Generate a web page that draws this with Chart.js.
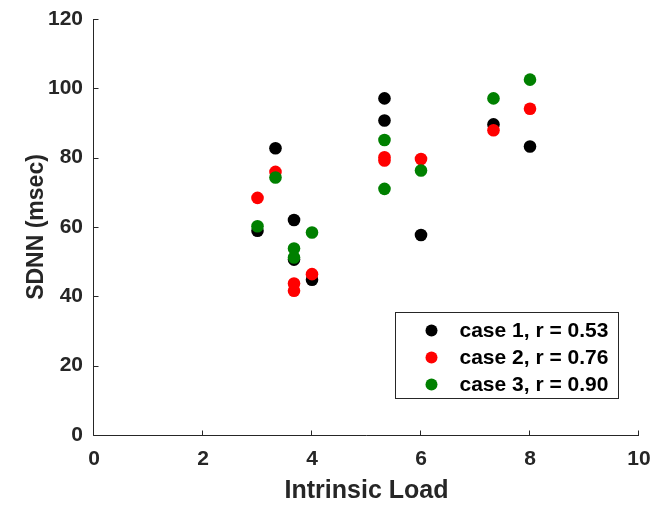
<!DOCTYPE html>
<html>
<head>
<meta charset="utf-8">
<script src="https://cdn.jsdelivr.net/npm/chart.js@4/dist/chart.umd.min.js"></script>
<style>
  html, body { margin: 0; padding: 0; background: #ffffff; }
  #wrap { width: 654px; height: 506px; position: relative; }
</style>
</head>
<body>
<div id="wrap"><canvas id="c"></canvas></div>
<script>
// ---- data ----
const xLoad   = [3, 3.33, 3.67, 3.67, 4, 5.33, 5.33, 6, 7.33, 8];
const case1   = [58.9, 82.7, 62.0, 50.6, 44.8, 97.1, 90.7, 57.7, 89.6, 83.2];
const case2   = [68.4, 75.9, 43.7, 41.6, 46.4, 80.1, 79.2, 79.6, 87.9, 94.1];
const case3   = [60.2, 74.3, 53.8, 51.2, 58.4, 85.1, 71.0, 76.3, 97.1, 102.5];
const seriesLabels = ['case 1, r = 0.53', 'case 2, r = 0.76', 'case 3, r = 0.90'];
const seriesColors = ['#000000', '#ff0000', '#008000'];
const xTicks = [0, 2, 4, 6, 8, 10];
const yTicks = [0, 20, 40, 60, 80, 100, 120];
const xTitle = 'Intrinsic Load';
const yTitle = 'SDNN (msec)';

const axisColor = '#262626';
const fontFam = '"Liberation Sans", Arial, Helvetica, sans-serif';

function pts(ys) { return ys.map((y, i) => ({ x: xLoad[i], y: y })); }

const allSeries = [case1, case2, case3];
const datasets = allSeries.map((ys, i) => ({
  label: seriesLabels[i],
  data: pts(ys),
  pointRadius: 6.3,
  pointHoverRadius: 6.3,
  pointBackgroundColor: seriesColors[i],
  pointBorderWidth: 0,
  borderWidth: 0,
  order: allSeries.length - i
}));

const axesPlugin = {
  id: 'matlabAxes',
  afterDatasetsDraw(chart) {
    const ctx = chart.ctx;
    const xs = chart.scales.x, ys = chart.scales.y;
    const L = Math.round(xs.left) + 0.5 - 1, B = Math.round(ys.bottom) + 0.5;
    ctx.save();
    ctx.strokeStyle = axisColor;
    ctx.lineWidth = 1;
    ctx.beginPath();
    ctx.moveTo(L, Math.round(ys.top));
    ctx.lineTo(L, B);
    ctx.lineTo(Math.round(xs.right), B);
    // inward ticks
    xTicks.forEach(v => {
      const px = Math.round(xs.getPixelForValue(v)) - 0.5;
      ctx.moveTo(px, B);
      ctx.lineTo(px, B - 5);
    });
    yTicks.forEach(v => {
      const py = Math.round(ys.getPixelForValue(v)) + 0.5;
      ctx.moveTo(L, py);
      ctx.lineTo(L + 5, py);
    });
    ctx.stroke();

    // legend box
    const ca = chart.chartArea;
    const bw = 223, bh = 86;
    const bx = Math.round(ca.right) - 21 - bw + 0.5;
    const by = Math.round(ca.bottom) - 37 - bh + 0.5;
    ctx.fillStyle = '#ffffff';
    ctx.fillRect(bx, by, bw, bh);
    ctx.strokeStyle = axisColor;
    ctx.strokeRect(bx, by, bw, bh);
    ctx.font = 'bold 21px ' + fontFam;
    ctx.textBaseline = 'middle';
    ctx.textAlign = 'left';
    chart.data.datasets.forEach((ds, i) => {
      const cy = by + 18 + i * 27;
      ctx.beginPath();
      ctx.fillStyle = seriesColors[i];
      ctx.arc(bx + 36, cy, 6, 0, Math.PI * 2);
      ctx.fill();
      ctx.fillStyle = '#000000';
      ctx.fillText(ds.label, bx + 64, cy + 1);
    });
    ctx.restore();
  }
};

new Chart(document.getElementById('c'), {
  type: 'scatter',
  data: { datasets },
  plugins: [axesPlugin],
  options: {
    responsive: true,
    maintainAspectRatio: false,
    animation: false,
    events: [],
    layout: { padding: { top: 19, right: 15, left: 0, bottom: 0 } },
    plugins: { legend: { display: false }, tooltip: { enabled: false } },
    scales: {
      x: {
        type: 'linear', min: 0, max: 10,
        afterBuildTicks: s => { s.ticks = xTicks.map(v => ({ value: v })); },
        afterFit: s => { s.height = 71; s.paddingLeft = 0; s.paddingRight = 0; },
        grid: { display: false, drawTicks: false },
        border: { display: false },
        ticks: { color: axisColor, padding: 12, maxRotation: 0, autoSkip: false,
                 font: { family: fontFam, size: 21, weight: 'bold' } },
        title: { display: true, text: xTitle, color: axisColor, padding: { top: 0, bottom: 0 },
                 font: { family: fontFam, size: 25, weight: 'bold' } }
      },
      y: {
        type: 'linear', min: 0, max: 120,
        afterBuildTicks: s => { s.ticks = yTicks.map(v => ({ value: v })); },
        afterFit: s => { s.width = 94; s.paddingTop = 0; s.paddingBottom = 0; },
        grid: { display: false, drawTicks: false },
        border: { display: false },
        ticks: { color: axisColor, padding: 11, autoSkip: false,
                 font: { family: fontFam, size: 21, weight: 'bold' } },
        title: { display: true, text: yTitle, color: axisColor, padding: { top: 23, bottom: 0 },
                 font: { family: fontFam, size: 23, weight: 'bold' } }
      }
    }
  }
});
</script>
</body>
</html>
